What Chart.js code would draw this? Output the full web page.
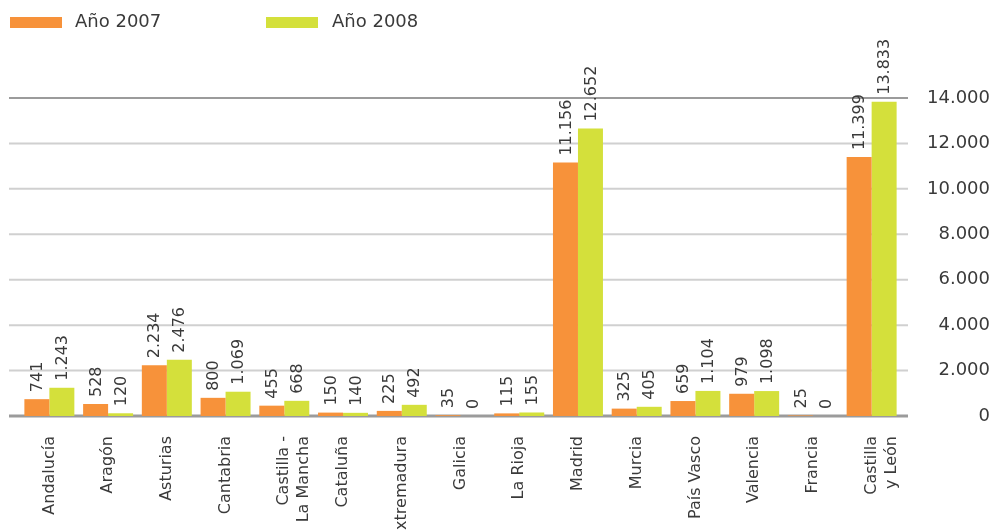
<!DOCTYPE html>
<html>
<head>
<meta charset="utf-8">
<script src="https://cdn.jsdelivr.net/npm/chart.js@4"></script>
<style>
  body { margin: 0; background: #fff; }
  #wrap { position: relative; width: 993px; height: 530px; }
  .key { position: absolute; top: 17px; width: 52px; height: 11px; }
  .keytxt { position: absolute; top: 10px; font: 18px "DejaVu Sans", sans-serif; color: #3a3a3a; line-height: 22px; }
</style>
</head>
<body>
<div id="wrap">
  <canvas id="chart" width="993" height="530"></canvas>
  <div class="key" style="left:10px;background:#F7923A"></div>
  <div class="keytxt" style="left:75px">Año 2007</div>
  <div class="key" style="left:266px;background:#D4E03B"></div>
  <div class="keytxt" style="left:332px">Año 2008</div>
</div>
<script>
const categories = [
  "Andalucía", "Aragón", "Asturias", "Cantabria", ["Castilla -", "La Mancha"],
  "Cataluña", "Extremadura", "Galicia", "La Rioja", "Madrid", "Murcia",
  "País Vasco", "Valencia", "Francia", ["Castilla", "y León"]
];
const year2007 = [741, 528, 2234, 800, 455, 150, 225, 35, 115, 11156, 325, 659, 979, 25, 11399];
const year2008 = [1243, 120, 2476, 1069, 668, 140, 492, 0, 155, 12652, 405, 1104, 1098, 0, 13833];
const yTicks = [0, 2000, 4000, 6000, 8000, 10000, 12000, 14000];

const fmt = v => String(v).replace(/\B(?=(\d{3})+(?!\d))/g, ".");

const gridLines = {
  id: "gridLines",
  beforeDatasetsDraw(chart) {
    const ctx = chart.ctx, y = chart.scales.y;
    ctx.save();
    yTicks.forEach(v => {
      const py = y.getPixelForValue(v);
      ctx.beginPath();
      ctx.strokeStyle = (v === 0 || v === 14000) ? "#9b9b9b" : "#d0d0d0";
      ctx.lineWidth = v === 0 ? 3 : 2;
      ctx.moveTo(9, py);
      ctx.lineTo(908, py);
      ctx.stroke();
    });
    ctx.restore();
  }
};

const valueLabels = {
  id: "valueLabels",
  afterDatasetsDraw(chart) {
    const ctx = chart.ctx;
    ctx.save();
    ctx.font = '16px "DejaVu Sans", sans-serif';
    ctx.fillStyle = "#3a3a3a";
    ctx.textAlign = "left";
    ctx.textBaseline = "middle";
    chart.data.datasets.forEach((ds, i) => {
      chart.getDatasetMeta(i).data.forEach((bar, j) => {
        ctx.save();
        ctx.translate(bar.x + 1, bar.y - 7);
        ctx.rotate(-Math.PI / 2);
        ctx.fillText(fmt(ds.data[j]), 0, 0);
        ctx.restore();
      });
    });
    ctx.restore();
  }
};

new Chart(document.getElementById("chart"), {
  type: "bar",
  data: {
    labels: categories,
    datasets: [
      { label: "Año 2007", data: year2007, backgroundColor: "#F7923A" },
      { label: "Año 2008", data: year2008, backgroundColor: "#D4E03B" }
    ]
  },
  options: {
    responsive: false,
    animation: false,
    layout: { padding: { top: 98, left: 20, right: 3, bottom: 0 } },
    datasets: { bar: { categoryPercentage: 0.851, barPercentage: 1 } },
    plugins: { legend: { display: false }, tooltip: { enabled: false } },
    scales: {
      x: {
        grid: { display: false },
        border: { display: false },
        ticks: {
          minRotation: 90, maxRotation: 90, padding: 12, autoSkip: false,
          color: "#3a3a3a", font: { family: "DejaVu Sans", size: 16, lineHeight: 1.25 }
        },
        afterFit(s) { s.height = 114; }
      },
      y: {
        position: "right",
        min: 0, max: 14000,
        grid: { display: false },
        border: { display: false },
        afterBuildTicks(s) { s.ticks = yTicks.map(v => ({ value: v })); },
        ticks: {
          crossAlign: "far",
          color: "#3a3a3a", font: { family: "DejaVu Sans", size: 18 },
          callback: v => fmt(v)
        },
        afterFit(s) { s.width = 89; }
      }
    }
  },
  plugins: [gridLines, valueLabels]
});
</script>
</body>
</html>
